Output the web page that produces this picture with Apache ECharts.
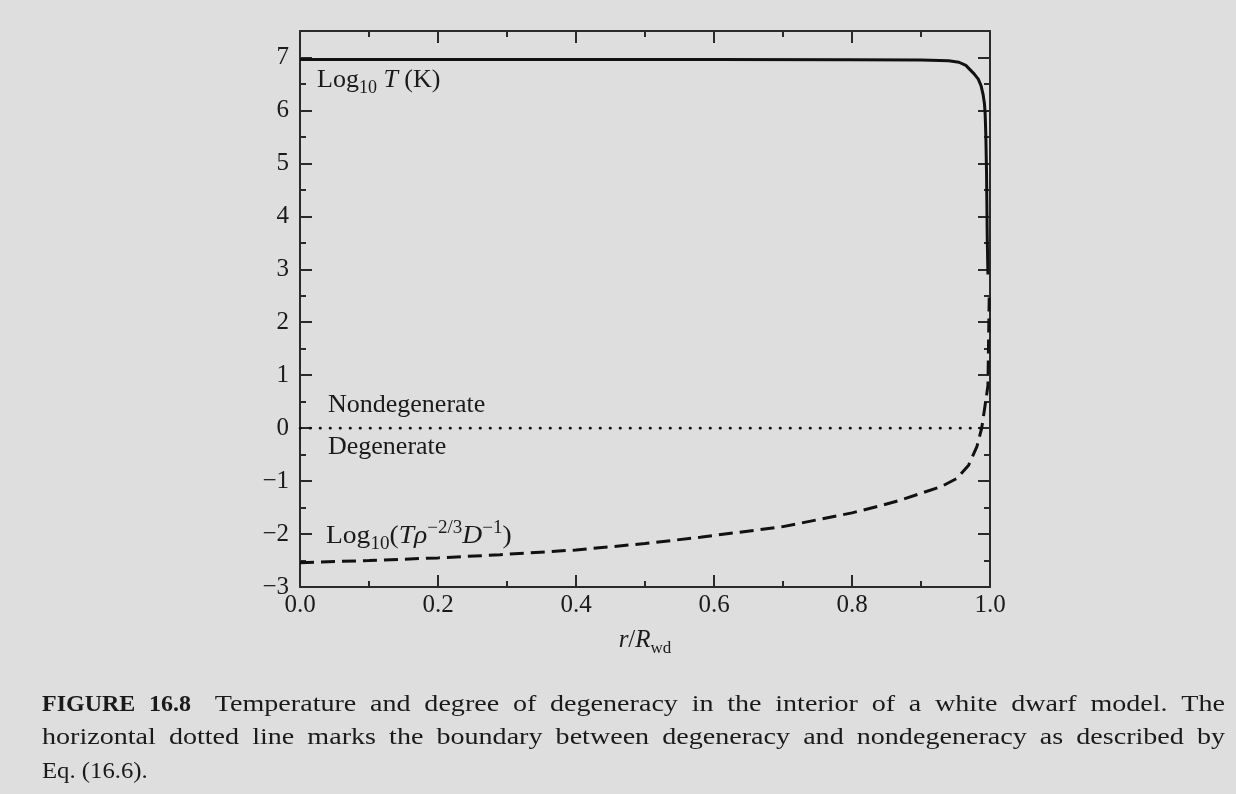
<!DOCTYPE html>
<html><head><meta charset="utf-8">
<script src="https://cdn.jsdelivr.net/npm/echarts@6/dist/echarts.min.js"></script>
<style>html,body{margin:0;padding:0;background:#dedede;}#c{width:1236px;height:794px;}</style>
</head><body><div id="c"></div>
<script>
// ---- data ----
const xTickLabels = ['0.0', '0.2', '0.4', '0.6', '0.8', '1.0'];
const yTickLabels = ['−3', '−2', '−1', '0', '1', '2', '3', '4', '5', '6', '7'];

// Log10 T (K) vs r/R_wd (solid)
const rT = [0, 0.2, 0.4, 0.6, 0.8, 0.9, 0.94, 0.955, 0.965, 0.971, 0.977, 0.983, 0.987, 0.990, 0.992, 0.993, 0.994, 0.995, 0.996, 0.997];
const logT = [6.96, 6.96, 6.96, 6.96, 6.955, 6.95, 6.94, 6.91, 6.85, 6.77, 6.69, 6.59, 6.47, 6.30, 6.12, 5.93, 5.5, 4.8, 3.6, 2.9];

// Log10(T rho^-2/3 D^-1) vs r/R_wd (dashed)
const rD = [0, 0.1, 0.2, 0.29, 0.4, 0.5, 0.58, 0.7, 0.8, 0.84, 0.87, 0.9, 0.93, 0.952, 0.969, 0.981, 0.988, 0.994, 0.997, 0.999];
const logD = [-2.54, -2.50, -2.45, -2.39, -2.30, -2.18, -2.06, -1.86, -1.60, -1.47, -1.36, -1.23, -1.10, -0.95, -0.70, -0.35, 0.0, 0.53, 0.8, 2.6];

// boundary degenerate / nondegenerate (dotted)
const rB = [0, 1];
const logB = [0, 0];

const captionLine1 = ['FIGURE 16.8', 'Temperature and degree of degeneracy in the interior of a white dwarf model. The'];
const captionLine2 = 'horizontal dotted line marks the boundary between degeneracy and nondegeneracy as described by';
const captionLine3 = 'Eq. (16.6).';

// ---- chart ----
const FONT = '"Liberation Serif", "Times New Roman", serif';
const INK = '#1a1a1a';
const FRAME = '#2a2a2a';
const chart = echarts.init(document.getElementById('c'), null, {renderer: 'canvas'});

function xLab(v) {
  const i = Math.round(v / 0.2);
  return Math.abs(v - i * 0.2) < 1e-6 ? (xTickLabels[i] || '') : '';
}
function yLab(v) {
  const i = Math.round(v + 3);
  return Math.abs(v - (i - 3)) < 1e-6 ? (yTickLabels[i] || '') : '';
}

function xAx(pos, interval, len, labels, line) {
  return {
    type: 'value', position: pos, min: 0, max: 1, interval: interval,
    axisLine: {show: line, onZero: false, lineStyle: {color: FRAME, width: 2}},
    axisTick: {show: true, inside: true, length: len, lineStyle: {color: FRAME, width: 2}},
    axisLabel: {show: labels, formatter: xLab, fontFamily: FONT, fontSize: 25, color: INK, margin: 6},
    splitLine: {show: false}
  };
}
function yAx(pos, interval, len, labels, line) {
  return {
    type: 'value', position: pos, min: -3, max: 7.5, interval: interval,
    axisLine: {show: line, onZero: false, lineStyle: {color: FRAME, width: 2}},
    axisTick: {show: true, inside: true, length: len, lineStyle: {color: FRAME, width: 2}},
    axisLabel: {show: labels, formatter: yLab, fontFamily: FONT, fontSize: 25, color: INK, margin: 11},
    splitLine: {show: false}
  };
}

const xAxes = [
  xAx('bottom', 0.2, 12, true, true),
  xAx('bottom', 0.1, 6, false, false),
  xAx('top', 0.2, 12, false, true),
  xAx('top', 0.1, 6, false, false)
];
xAxes[0].name = '{i|r}/{i|R}{s|wd}';
xAxes[0].nameLocation = 'middle';
xAxes[0].nameGap = 36;
xAxes[0].nameTextStyle = {
  fontFamily: FONT, fontSize: 25, color: INK, lineHeight: 34,
  rich: {
    i: {fontFamily: FONT, fontSize: 25, fontStyle: 'italic', color: INK, lineHeight: 34},
    s: {fontFamily: FONT, fontSize: 17, color: INK, lineHeight: 16, verticalAlign: 'bottom'}
  }
};

const yAxes = [
  yAx('left', 1, 12, true, true),
  yAx('left', 0.5, 6, false, false),
  yAx('right', 1, 12, false, true),
  yAx('right', 0.5, 6, false, false)
];

const richBase = {
  m: {fontFamily: FONT, fontSize: 26, fill: INK, lineHeight: 34},
  i: {fontFamily: FONT, fontSize: 26, fontStyle: 'italic', fill: INK, lineHeight: 34},
  s: {fontFamily: FONT, fontSize: 18, fill: INK, lineHeight: 16, verticalAlign: 'bottom'},
  p: {fontFamily: FONT, fontSize: 18, fill: INK, lineHeight: 22, verticalAlign: 'top'}
};

function label(x, y, text, sx) {
  return {
    type: 'text', x: x, y: y, scaleX: sx || 1, silent: true,
    style: {text: text, rich: richBase, font: '26px ' + FONT, fill: INK, textAlign: 'left', textVerticalAlign: 'middle'}
  };
}

// caption, justified like the printed page
const CAP = 24;
const REG_SCALE = 1.17;
const measCtx = document.createElement('canvas').getContext('2d');
function measure(t, bold) {
  measCtx.font = (bold ? 'bold ' : '') + CAP + 'px ' + FONT;
  return measCtx.measureText(t).width * (bold ? 1 : REG_SCALE);
}
function wordEl(t, bold, x, y, sx) {
  return {type: 'text', x: x, y: y, scaleX: sx, silent: true,
    style: {text: t, font: (bold ? 'bold ' : '') + CAP + 'px ' + FONT, fill: INK, textAlign: 'left', textVerticalAlign: 'middle'}};
}
function justified(words, x0, x1, y, extraAfter) {
  const out = [];
  let total = 0;
  words.forEach(w => { w.w = measure(w.t, w.b); total += w.w; });
  const gaps = words.length - 1;
  const extra = extraAfter ? extraAfter.px : 0;
  const g = (x1 - x0 - total - extra) / gaps;
  let x = x0;
  words.forEach((w, k) => {
    out.push(wordEl(w.t, w.b, x, y, w.b ? 1 : REG_SCALE));
    x += w.w + g + (extraAfter && k === extraAfter.index ? extra : 0);
  });
  return out;
}
const l1Bold = captionLine1[0].split(' ').map(t => ({t: t, b: true}));
const l1Reg = captionLine1[1].split(' ').map(t => ({t: t, b: false}));
const line1 = justified(l1Bold.concat(l1Reg), 42, 1225, 705, {index: l1Bold.length - 1, px: 10});
const line2 = justified(captionLine2.split(' ').map(t => ({t: t, b: false})), 42, 1225, 738);
const line3 = [wordEl(captionLine3, false, 42, 772, 1.03)];

const zip = (a, b) => a.map((v, i) => [v, b[i]]);

chart.setOption({
  backgroundColor: '#dedede',
  animation: false,
  grid: {left: 300, right: 246, top: 31, bottom: 207, show: false},
  xAxis: xAxes,
  yAxis: yAxes,
  series: [
    {type: 'line', name: 'Log10 T (K)', data: zip(rT, logT), xAxisIndex: 0, yAxisIndex: 0,
      showSymbol: false, smooth: false, lineStyle: {color: '#111', width: 3}, z: 3},
    {type: 'line', name: 'Log10(T rho^-2/3 D^-1)', data: zip(rD, logD), xAxisIndex: 0, yAxisIndex: 0,
      showSymbol: false, smooth: false, lineStyle: {color: '#111', width: 3, type: [14, 7]}, z: 3},
    {type: 'line', name: 'boundary', data: zip(rB, logB), xAxisIndex: 0, yAxisIndex: 0,
      showSymbol: false, lineStyle: {color: '#111', width: 2.6, type: [0.5, 9.5], cap: 'round'}, z: 2}
  ],
  graphic: [
    label(317, 80, '{m|Log}{s|10} {i|T}{m| (K)}'),
    label(328, 405, '{m|Nondegenerate}'),
    label(328, 447, '{m|Degenerate}'),
    label(326, 536, '{m|Log}{s|10}{m|(}{i|Tρ}{p|−2/3}{i|D}{p|−1}{m|)}', 1.06)
  ].concat(line1, line2, line3)
});
</script>
</body></html>
